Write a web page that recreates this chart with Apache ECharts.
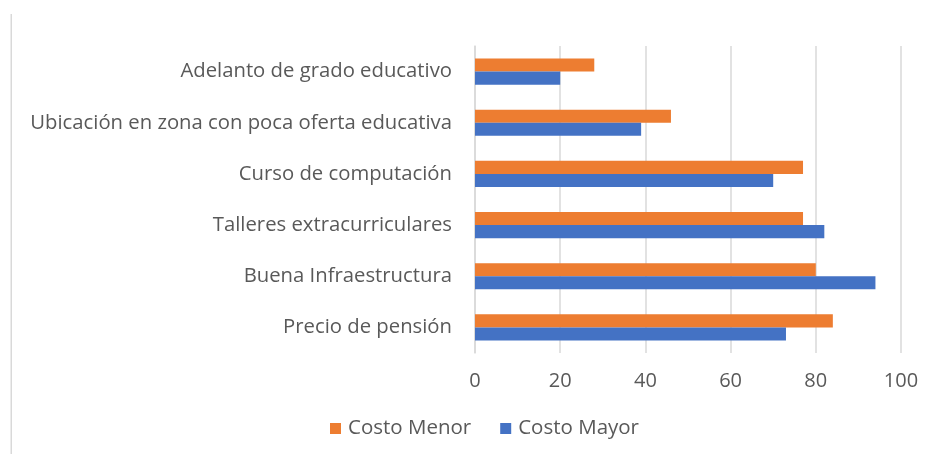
<!DOCTYPE html>
<html>
<head>
<meta charset="utf-8">
<script src="https://cdn.jsdelivr.net/npm/echarts@6/dist/echarts.min.js"></script>
<style>
html,body{margin:0;padding:0;background:#fff;}
#c{width:931px;height:454px;}
</style>
</head>
<body>
<div id="c"></div>
<script>
const categories = ["Precio de pensión","Buena Infraestructura","Talleres extracurriculares","Curso de computación","Ubicación en zona con poca oferta educativa","Adelanto de grado educativo"];
const seriesNames = ["Costo Menor","Costo Mayor"];
const costoMenor = [84, 80, 77, 77, 46, 28];
const costoMayor = [73, 94, 82, 70, 39, 20];
const xTicks = [0, 20, 40, 60, 80, 100];

const font = "'Open Sans', sans-serif";
const txt = '#595959';
const chart = echarts.init(document.getElementById('c'), null, {renderer:'canvas'});
chart.setOption({
  animation:false,
  backgroundColor:'#fff',
  graphic:[{type:'rect', shape:{x:10.5,y:14,width:1.5,height:440}, style:{fill:'#d9d9d9'}, silent:true}],
  legend:{
    data:seriesNames, left:325, top:413, itemWidth:11, itemHeight:11, itemGap:29,
    icon:'rect',
    textStyle:{fontFamily:font, fontSize:20.5, color:txt, padding:[0,0,0,2]}
  },
  grid:{left:475, right:30, top:46, bottom:101, containLabel:false},
  xAxis:{
    type:'value', min:xTicks[0], max:xTicks[xTicks.length-1], interval:20,
    axisLine:{show:false}, axisTick:{show:false},
    splitLine:{show:true, lineStyle:{color:'#d9d9d9', width:1.5}},
    axisLabel:{fontFamily:font, fontSize:20, color:txt, margin:18}
  },
  yAxis:{
    type:'category', data:categories,
    axisLine:{show:true, lineStyle:{color:'#d9d9d9', width:1.5}},
    axisTick:{show:false},
    axisLabel:{fontFamily:font, fontSize:20.3, color:txt, margin:23}
  },
  series:[
    {name:seriesNames[0], type:'bar', data:costoMenor, barGap:'0%', barCategoryGap:'49%', itemStyle:{color:'#ED7D31'}},
    {name:seriesNames[1], type:'bar', data:costoMayor, barGap:'0%', barCategoryGap:'49%', itemStyle:{color:'#4472C4'}}
  ]
});
</script>
</body>
</html>
